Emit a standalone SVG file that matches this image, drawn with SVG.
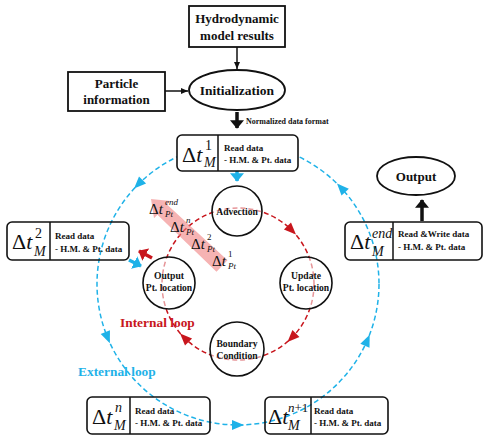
<svg xmlns="http://www.w3.org/2000/svg" width="484" height="446" viewBox="0 0 484 446">
<style>
text{font-family:"Liberation Serif","Times New Roman",serif;fill:#111}
.b{font-weight:bold}
.box{fill:none;stroke:#111;stroke-width:1.8}
.dbox{fill:none;stroke:#111;stroke-width:1.6}
.node{fill:#fff;fill-opacity:0.55;stroke:#111;stroke-width:1.6}
.ln{stroke:#111;stroke-width:1.5;fill:none}
.ext{fill:none;stroke:#1fb2e8;stroke-width:1.5;stroke-dasharray:5 3}
.int{fill:none;stroke:#c8161d;stroke-width:1.5;stroke-dasharray:5 3}
.bh{fill:#1fb2e8}
.rh{fill:#c8161d}
.big{font-size:22px}
.sup{font-size:14px}
.it{font-style:italic}
.rd{font-size:9px;font-weight:bold}
.lbl{font-size:13px;font-weight:bold}
.cl{font-size:9.6px;font-weight:bold}
.pd{font-size:15px}
.ps{font-size:9px}
</style>
<defs>
<marker id="ah" markerWidth="8" markerHeight="8" refX="7" refY="4" orient="auto" markerUnits="userSpaceOnUse"><path d="M0,1 L7,4 L0,7 z" fill="#111"/></marker>
<marker id="ahk" markerWidth="4" markerHeight="4" refX="2.2" refY="2" orient="auto"><path d="M0,0 L2.4,2 L0,4 z" fill="#111"/></marker>
<marker id="ahb" markerWidth="4" markerHeight="4" refX="2.2" refY="2" orient="auto"><path d="M0,0 L2.4,2 L0,4 z" fill="#1fb2e8"/></marker>
<marker id="ahr" markerWidth="4" markerHeight="4" refX="2.2" refY="2" orient="auto"><path d="M0,0 L2.4,2 L0,4 z" fill="#c8161d"/></marker>
</defs>

<g id="loops">
<circle class="ext" cx="238" cy="284" r="141"/>
<circle class="int" cx="238" cy="284" r="76"/>
<g class="bh">
<polygon points="6,0 -6,-5 -6,5" transform="translate(138.3,184.3) rotate(135)"/>
<polygon points="6,0 -6,-5 -6,5" transform="translate(107.6,337.7) rotate(67.6)"/>
<polygon points="6,0 -6,-5 -6,5" transform="translate(238,425) rotate(0)"/>
<polygon points="6,0 -6,-5 -6,5" transform="translate(367.3,340.2) rotate(-66.5)"/>
<polygon points="6,0 -6,-5 -6,5" transform="translate(341.1,187.8) rotate(-133)"/>
</g>
<g class="rh">
<polygon points="6,0 -6,-5 -6,5" transform="translate(291.7,230.3) rotate(45)"/>
<polygon points="6,0 -6,-5 -6,5" transform="translate(291.7,337.7) rotate(135)"/>
<polygon points="6,0 -6,-5 -6,5" transform="translate(184.3,337.7) rotate(225)"/>
</g>
</g>

<g id="connectors">
<line class="ln" x1="237" y1="47" x2="237" y2="69" marker-end="url(#ah)"/>
<line class="ln" x1="165" y1="91" x2="188" y2="91" marker-end="url(#ah)"/>
<line x1="237" y1="112" x2="237" y2="128" stroke="#111" stroke-width="3.5" marker-end="url(#ahk)"/>
<line x1="422" y1="221" x2="422" y2="200" stroke="#111" stroke-width="3.5" marker-end="url(#ahk)"/>
<line x1="237" y1="171" x2="237" y2="181" stroke="#1fb2e8" stroke-width="3.5" marker-end="url(#ahb)"/>
<line x1="152" y1="258" x2="139" y2="251" stroke="#c8161d" stroke-width="3.5" marker-end="url(#ahr)"/>
<line x1="129" y1="260" x2="141" y2="266" stroke="#1fb2e8" stroke-width="3.5" marker-end="url(#ahb)"/>
</g>

<g id="hydro">
<rect class="box" x="189" y="6" width="96" height="41"/>
<text class="lbl" x="237" y="23" text-anchor="middle">Hydrodynamic</text>
<text class="lbl" x="237" y="40" text-anchor="middle">model results</text>
</g>
<g id="particle">
<rect class="box" x="68" y="72" width="97" height="39"/>
<text class="lbl" x="116.5" y="88" text-anchor="middle">Particle</text>
<text class="lbl" x="116.5" y="104" text-anchor="middle">information</text>
</g>
<g id="init">
<ellipse class="box" cx="237" cy="90" rx="48" ry="20"/>
<text class="b" x="237" y="95" font-size="13.5" text-anchor="middle">Initialization</text>
</g>
<text class="b" x="246" y="124" font-size="8">Normalized data format</text>

<g id="dt1">
<rect class="dbox" x="177" y="135" width="121" height="36" rx="5" style="fill:#fff"/>
<line class="ln" x1="218" y1="135" x2="218" y2="171"/>
<text class="big" x="182" y="162">Δ<tspan class="it">t</tspan></text>
<text class="sup" x="205" y="150">1</text>
<text class="sup it" x="204" y="167">M</text>
<text class="rd" x="224" y="151">Read data</text>
<text class="rd" x="224" y="163">- H.M. &amp; Pt. data</text>
</g>

<g id="dt2">
<rect class="dbox" x="7" y="222" width="122" height="38" rx="5"/>
<line class="ln" x1="50" y1="222" x2="50" y2="260"/>
<text class="big" x="12" y="249">Δ<tspan class="it">t</tspan></text>
<text class="sup" x="35" y="238">2</text>
<text class="sup it" x="34" y="256">M</text>
<text class="rd" x="55" y="239">Read data</text>
<text class="rd" x="55" y="252">- H.M. &amp; Pt. data</text>
</g>

<g id="dtend">
<rect class="dbox" x="345" y="222" width="137" height="38" rx="5"/>
<line class="ln" x1="393" y1="222" x2="393" y2="260"/>
<text class="big" x="350" y="249">Δ<tspan class="it">t</tspan></text>
<text class="sup it" x="372" y="238">end</text>
<text class="sup it" x="372" y="256">M</text>
<text class="rd" x="398" y="237">Read &amp;Write data</text>
<text class="rd" x="398" y="250">- H.M. &amp; Pt. data</text>
</g>

<g id="output">
<ellipse class="box" cx="416" cy="176" rx="39" ry="19"/>
<text class="b" x="416" y="181" font-size="13" text-anchor="middle">Output</text>
</g>

<g id="dtn">
<rect class="dbox" x="87" y="397" width="123" height="37" rx="5"/>
<line class="ln" x1="130" y1="397" x2="130" y2="434"/>
<text class="big" x="92" y="424">Δ<tspan class="it">t</tspan></text>
<text class="sup it" x="115" y="412">n</text>
<text class="sup it" x="114" y="430">M</text>
<text class="rd" x="135" y="414">Read data</text>
<text class="rd" x="135" y="426">- H.M. &amp; Pt. data</text>
</g>

<g id="dtn1">
<rect class="dbox" x="265" y="397" width="123" height="37" rx="5"/>
<line class="ln" x1="311" y1="397" x2="311" y2="434"/>
<text class="big" x="268" y="424">Δ<tspan class="it">t</tspan></text>
<text x="288" y="412" font-size="13"><tspan class="it">n</tspan>+1</text>
<text class="sup it" x="288" y="430">M</text>
<text class="rd" x="314" y="414">Read data</text>
<text class="rd" x="314" y="426">- H.M. &amp; Pt. data</text>
</g>

<g id="advection">
<circle class="node" cx="237" cy="211" r="25"/>
<text class="cl" x="237" y="215" text-anchor="middle">Advection</text>
</g>
<g id="update">
<circle class="node" cx="306" cy="283" r="26"/>
<text class="cl" x="306" y="279" text-anchor="middle">Update</text>
<text class="cl" x="306" y="291" text-anchor="middle">Pt. location</text>
</g>
<g id="outloc">
<circle class="node" cx="169" cy="283" r="26"/>
<text class="cl" x="169" y="279" text-anchor="middle">Output</text>
<text class="cl" x="169" y="291" text-anchor="middle">Pt. location</text>
</g>
<g id="boundary">
<circle class="node" cx="237" cy="349" r="27"/>
<text class="cl" x="237" y="347" text-anchor="middle">Boundary</text>
<text class="cl" x="237" y="359" text-anchor="middle">Condition</text>
</g>

<g id="ptsteps">
<polygon points="227.5,260.2 216.5,271.8 157.4,214.7 154,218.3 151,199 170.4,200.9 167,204.5" fill="#f08080" fill-opacity="0.6"/>
<text class="pd" x="149" y="214">Δ<tspan class="it">t</tspan></text>
<text class="ps it" x="165" y="205">end</text>
<text class="ps it" x="165" y="217">Pt</text>
<text class="pd" x="170" y="232">Δ<tspan class="it">t</tspan></text>
<text class="ps it" x="186" y="223">n</text>
<text class="ps it" x="186" y="235">Pt</text>
<text class="pd" x="191" y="249">Δ<tspan class="it">t</tspan></text>
<text class="ps" x="207" y="240">2</text>
<text class="ps it" x="207" y="252">Pt</text>
<text class="pd" x="212" y="266">Δ<tspan class="it">t</tspan></text>
<text class="ps" x="228" y="257">1</text>
<text class="ps it" x="228" y="269">Pt</text>
</g>

<text class="b" x="120" y="327" font-size="13.4" style="fill:#c8161d">Internal loop</text>
<text class="b" x="78" y="376" font-size="13.4" style="fill:#1fb2e8">External loop</text>
</svg>
